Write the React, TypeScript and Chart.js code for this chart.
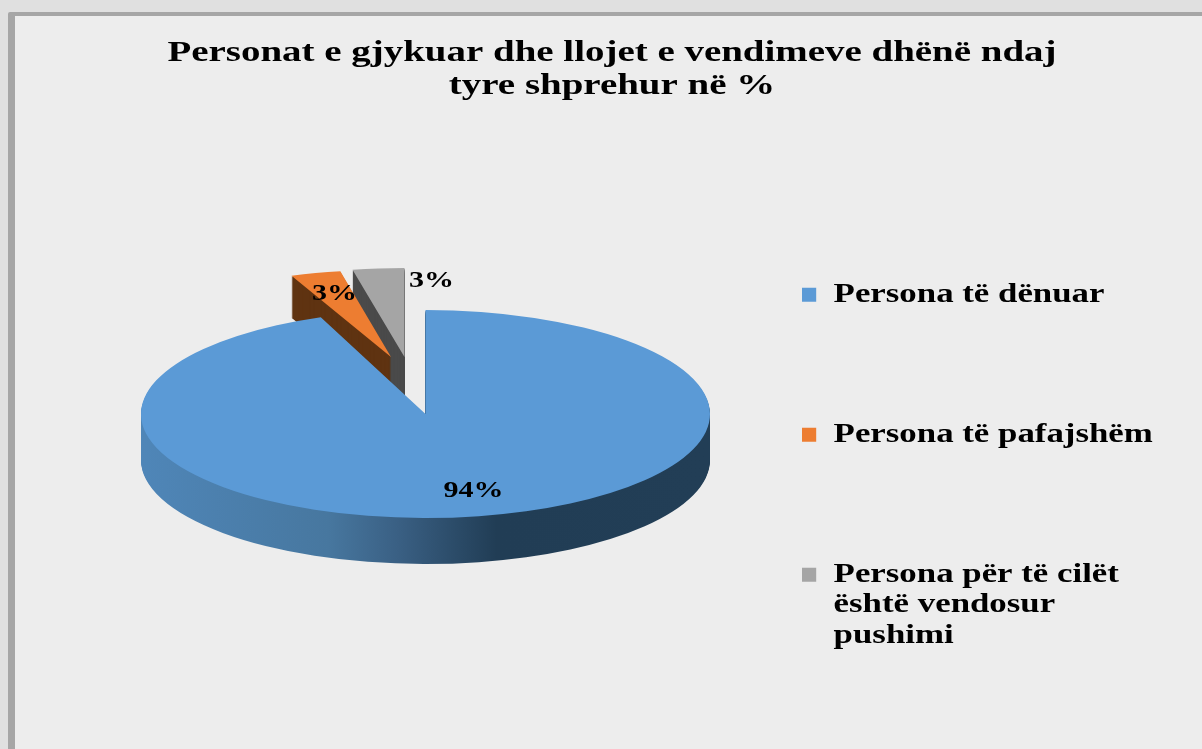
import React, { useEffect, useRef } from "react";
import { Chart, registerables } from "chart.js";

Chart.register(...registerables);

const TITLE_LINES = ["Personat e gjykuar dhe llojet e vendimeve dhënë ndaj", "tyre shprehur në %"];
const CATEGORIES: (string | string[])[] = [
  "Persona të dënuar",
  "Persona të pafajshëm",
  ["Persona për të cilët", "është vendosur", "pushimi"],
];
const PERCENTAGES = [94, 3, 3];
const TOP_COLORS = ["#5b9ad6", "#ed7d31", "#a5a5a5"];
const SIDE_COLORS = [null, "#5f3311", "#4a4a4a"];
const BLUE_SIDE_STOPS: [number, string][] = [
  [0, "#4f86b8"],
  [0.33, "#47779f"],
  [0.45, "#3a6084"],
  [0.625, "#213d55"],
  [1, "#223e56"],
];

const FONT_FAMILY = "'Liberation Serif', serif";
const TITLE_STRETCH = 1.298;
const TITLE_CENTER = 597;
const LEGEND_STRETCH = 1.29;
const LABEL_STRETCH = 1.25;
const LEGEND_LEFT = 787;
const LEGEND_DY = 84;
const PIE = { cx: 410.5, cy: 398, rx: 284.5, ry: 104 };
const SLICE_PLACEMENT = [
  { dx: 0, dy: 0, sx: 1, sy: 1, depth: 46, labelDx: 8, labelDy: 0 },
  { dx: -34.5, dy: -57, sx: 0.95, sy: 0.84, depth: 42, labelDx: 0, labelDy: 0 },
  { dx: -21, dy: -57, sx: 0.975, sy: 0.855, depth: 55, labelDx: 46.5, labelDy: -9.5 },
];
const DRAW_ORDER = [2, 1, 0];

const stretchText = {
  id: "stretchText",
  beforeDraw(chart: any) {
    const ctx = chart.ctx;
    const title = chart.titleBlock;
    if (title && !title.__stretched) {
      title.__stretched = true;
      const draw = title.draw.bind(title);
      title.draw = () => {
        ctx.save();
        ctx.translate(TITLE_CENTER, 0);
        ctx.scale(TITLE_STRETCH, 1);
        ctx.translate(-(title.left + title.right) / 2, 0);
        draw();
        ctx.restore();
      };
    }
    const legend = chart.legend;
    if (legend && !legend.__stretched) {
      legend.__stretched = true;
      const draw = legend.draw.bind(legend);
      legend.draw = () => {
        ctx.save();
        ctx.translate(LEGEND_LEFT, LEGEND_DY);
        ctx.scale(LEGEND_STRETCH, 1);
        ctx.translate(-legend.left - legend.options.labels.padding, 0);
        draw();
        ctx.restore();
      };
    }
  },
};

const pie3d = {
  id: "pie3d",
  beforeDatasetsDraw(chart: any) {
    const ctx: CanvasRenderingContext2D = chart.ctx;
    const arcs = chart.getDatasetMeta(0).data;

    const drawArc = (arc: any, s: any, lift: number, fill: any) => {
      const R = arc.outerRadius;
      const saved = arc.options;
      arc.options = Object.create(saved, { backgroundColor: { value: fill } });
      ctx.save();
      ctx.translate(PIE.cx + s.dx, PIE.cy + s.dy + lift);
      ctx.scale((PIE.rx / R) * s.sx, (PIE.ry / R) * s.sy);
      ctx.translate(-arc.x, -arc.y);
      arc.draw(ctx);
      ctx.restore();
      arc.options = saved;
    };

    for (const i of DRAW_ORDER) {
      const arc = arcs[i];
      const s = SLICE_PLACEMENT[i];
      let side: any = SIDE_COLORS[i];
      if (!side) {
        side = ctx.createLinearGradient(arc.x - arc.outerRadius, 0, arc.x + arc.outerRadius, 0);
        for (const [p, c] of BLUE_SIDE_STOPS) side.addColorStop(p, c);
      }
      for (let d = s.depth; d >= 1; d--) drawArc(arc, s, d, side);
      drawArc(arc, s, 0, TOP_COLORS[i]);
    }

    arcs.forEach((arc: any, i: number) => {
      const s = SLICE_PLACEMENT[i];
      const mid = (arc.startAngle + arc.endAngle) / 2;
      const x = PIE.cx + s.dx + Math.cos(mid) * PIE.rx * s.sx * 0.75 + s.labelDx;
      const y = PIE.cy + s.dy + Math.sin(mid) * PIE.ry * s.sy * 0.75 + s.labelDy;
      ctx.save();
      ctx.font = `bold 24px ${FONT_FAMILY}`;
      ctx.fillStyle = "#000";
      ctx.textAlign = "center";
      ctx.textBaseline = "middle";
      ctx.translate(x, y);
      ctx.scale(LABEL_STRETCH, 1);
      ctx.fillText(`${PERCENTAGES[i]}%`, 0, 0);
      ctx.restore();
    });
    return false;
  },
};

export default function App() {
  const ref = useRef<HTMLCanvasElement>(null);
  useEffect(() => {
    const chart = new Chart(ref.current!, {
      type: "pie",
      data: {
        labels: CATEGORIES as any,
        datasets: [{ data: PERCENTAGES, backgroundColor: TOP_COLORS, borderWidth: 0 }],
      },
      options: {
        responsive: false,
        animation: false,
        layout: { padding: { top: 21, right: 48, bottom: 20, left: 20 } },
        plugins: {
          tooltip: { enabled: false },
          title: {
            display: true,
            text: TITLE_LINES,
            color: "#000",
            font: { family: FONT_FAMILY, size: 30, weight: "bold", lineHeight: 1.1 },
            padding: { top: 0, bottom: 10 },
          },
          legend: {
            position: "right",
            labels: {
              color: "#000",
              boxWidth: 11,
              boxHeight: 14,
              padding: 113,
              font: { family: FONT_FAMILY, size: 27, weight: "bold", lineHeight: 1.13 },
            },
          },
        },
      },
      plugins: [stretchText, pie3d],
    } as any);
    return () => chart.destroy();
  }, []);

  return (
    <div style={{ position: "absolute", left: 0, top: 0, width: 1202, height: 749, overflow: "hidden", background: "#e0e0e0" }}>
      <div style={{ position: "absolute", left: 8, top: 12, width: 1300, height: 800, background: "#ededed", borderLeft: "7px solid #a6a6a6", borderTop: "4px solid #a6a6a6", borderRadius: 2 }} />
      <canvas ref={ref} width={1192} height={733} style={{ position: "absolute", left: 15, top: 16 }} />
    </div>
  );
}
